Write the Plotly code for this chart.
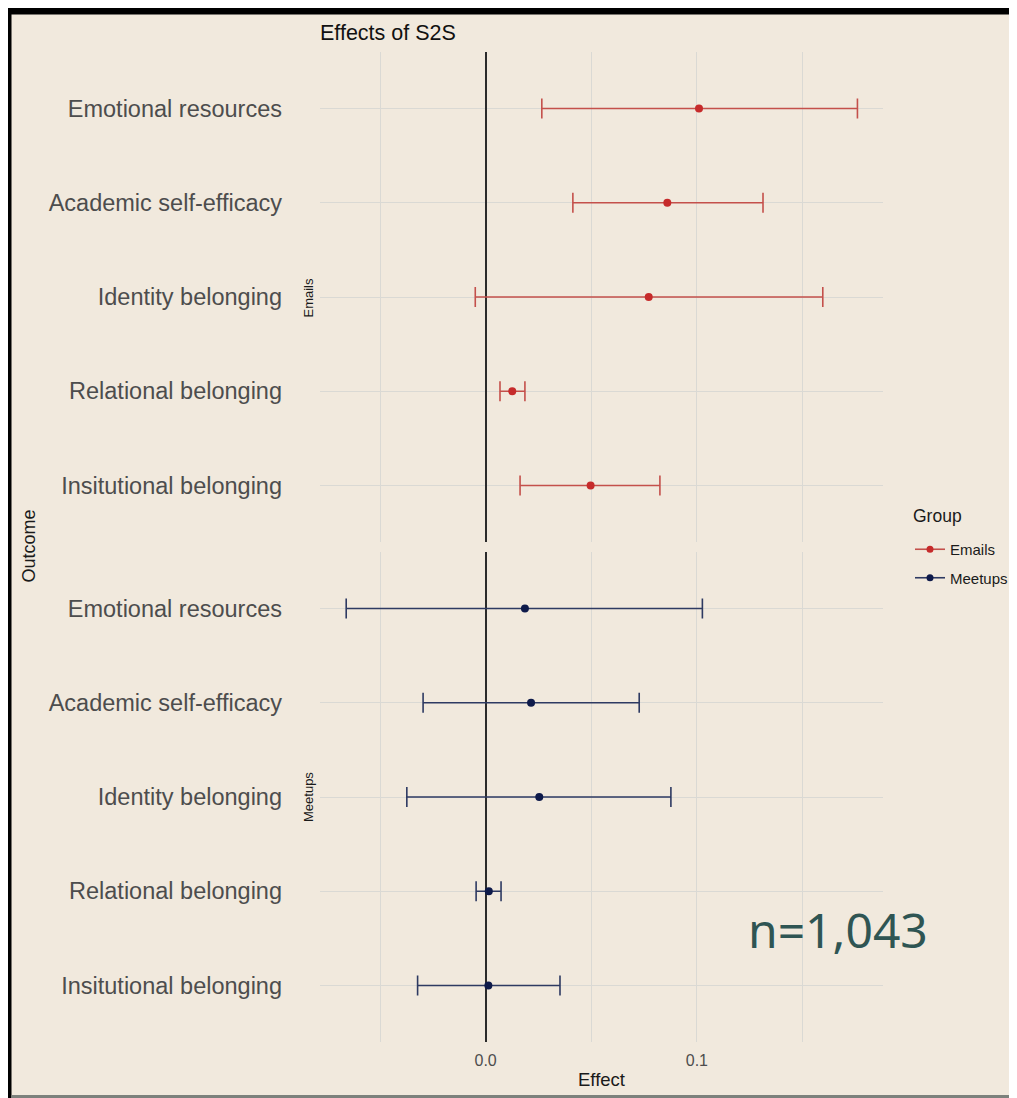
import plotly.graph_objects as go
from plotly.subplots import make_subplots

# ---- data ----
outcomes = ["Emotional resources", "Academic self-efficacy", "Identity belonging",
            "Relational belonging", "Insitutional belonging"]

emails_est = [0.101, 0.086, 0.0772, 0.0126, 0.0497]
emails_lo = [0.0266, 0.0413, -0.0049, 0.0068, 0.0163]
emails_hi = [0.176, 0.1313, 0.1596, 0.0186, 0.0825]

meetups_est = [0.0186, 0.0215, 0.0254, 0.0015, 0.0013]
meetups_lo = [-0.066, -0.0296, -0.0373, -0.0045, -0.0322]
meetups_hi = [0.1026, 0.0727, 0.0877, 0.0073, 0.0352]

x_tickvals = [-0.05, 0.0, 0.05, 0.1, 0.15]
x_ticktext = ["", "0.0", "", "0.1", ""]

groups = ["Emails", "Meetups"]

# ---- geometry (pixels in the page; the page body adds an 8px margin) ----
OFF = 8
PAGE_W, PAGE_H = 1017, 1098
W, H = PAGE_W - OFF, PAGE_H - OFF
L, R, T, B = 320, 883, 52, 1042  # plot area in page pixels
pw, ph = R - L, B - T


def px(xp):
    return (xp - L) / pw


def py(yp):
    return (B - yp) / ph


BG = "#F1E9DD"
GRID = "#DAD9D4"
FONT = "Liberation Sans, Arial, sans-serif"
email_marker, email_line = "#C62B2B", "#C4504B"
meet_marker, meet_line = "#0E1A4A", "#2E3A62"

fig = make_subplots(rows=2, cols=1, shared_xaxes=True, vertical_spacing=10 / ph)

series = [
    (emails_est, emails_lo, emails_hi, email_marker, email_line, 1),
    (meetups_est, meetups_lo, meetups_hi, meet_marker, meet_line, 2),
]
for (est, lo, hi, mc, lc, row), name in zip(series, groups):
    fig.add_trace(go.Scatter(
        x=est, y=outcomes, mode="markers", name=name, showlegend=False,
        marker=dict(color=mc, size=8),
        error_x=dict(type="data", symmetric=False,
                     array=[h - e for h, e in zip(hi, est)],
                     arrayminus=[e - l for e, l in zip(est, lo)],
                     color=lc, thickness=1.6, width=10),
    ), row=row, col=1)
    # legend entry
    fig.add_trace(go.Scatter(
        x=[None], y=[None], mode="lines+markers", name=name, legendgroup=name,
        line=dict(color=lc, width=1.6), marker=dict(color=mc, size=7),
    ), row=1, col=1)

for r in (1, 2):
    fig.update_yaxes(type="category", categoryorder="array", categoryarray=outcomes,
                     range=[4.6, -0.6], showgrid=True, gridcolor=GRID, gridwidth=1,
                     ticks="", showline=False, zeroline=False,
                     tickfont=dict(family=FONT, size=23.5, color="#4D4D4D"),
                     ticklabelstandoff=37, row=r, col=1)
    fig.update_xaxes(range=[-0.0784, 0.1881], tickvals=x_tickvals, ticktext=x_ticktext,
                     showgrid=True, gridcolor=GRID, gridwidth=1,
                     zeroline=True, zerolinecolor="#2B2B2B", zerolinewidth=1.6,
                     ticks="", showline=False, ticklabelstandoff=7,
                     tickfont=dict(family=FONT, size=16, color="#4D4D4D"),
                     row=r, col=1)

fig.update_xaxes(title=dict(text="Effect", font=dict(family=FONT, size=18.5, color="#1A1A1A"),
                            standoff=5), row=2, col=1)

anns = []
for text, yy in (("Emails", 297.5), ("Meetups", 797)):
    anns.append(dict(text=text, x=px(308), y=py(yy), textangle=-90,
                     xref="paper", yref="paper", showarrow=False, xanchor="center",
                     yanchor="middle", font=dict(family=FONT, size=13, color="#1A1A1A")))
anns.append(dict(text="Outcome", xref="paper", yref="paper", x=px(28), y=py(546.5),
                 textangle=-90, showarrow=False, xanchor="center", yanchor="middle",
                 font=dict(family=FONT, size=18, color="#1A1A1A")))
anns.append(dict(text="Group", xref="paper", yref="paper", x=px(911), y=py(516),
                 showarrow=False, xanchor="left", yanchor="middle",
                 font=dict(family=FONT, size=17.5, color="#1A1A1A")))
anns.append(dict(text="n=1,043", xref="paper", yref="paper", x=px(746), y=py(929),
                 showarrow=False, xanchor="left", yanchor="middle",
                 font=dict(family="Noto Sans, sans-serif", size=48, color="#2F5553")))

shapes = [
    # black frame (top and left) and grey bottom edge
    dict(type="rect", xref="paper", yref="paper", x0=px(0), x1=px(PAGE_W + 10), y0=py(0), y1=py(14.5),
         fillcolor="black", line=dict(width=0), layer="below"),
    dict(type="rect", xref="paper", yref="paper", x0=px(0), x1=px(11.5), y0=py(0), y1=py(PAGE_H + 10),
         fillcolor="black", line=dict(width=0), layer="below"),
    dict(type="rect", xref="paper", yref="paper", x0=px(11.5), x1=px(PAGE_W + 10), y0=py(1095),
         y1=py(PAGE_H + 10), fillcolor="#7D817C", line=dict(width=0), layer="below"),
]

fig.update_layout(
    width=W, height=H,
    margin=dict(l=L - OFF, r=PAGE_W - R, t=T - OFF, b=PAGE_H - B, pad=0, autoexpand=False),
    paper_bgcolor=BG, plot_bgcolor=BG,
    title=dict(text="Effects of S2S", x=px(320), xref="paper", xanchor="left",
               y=1 - (32 - OFF) / H, yref="container", yanchor="middle",
               font=dict(family=FONT, size=21.5, color="#111111")),
    legend=dict(font=dict(family=FONT, size=15, color="#1A1A1A"),
                x=px(910), y=py(533), xanchor="left", yanchor="top",
                bgcolor="rgba(0,0,0,0)", tracegroupgap=6, traceorder="grouped"),
    annotations=anns,
    shapes=shapes,
)

fig.write_html("out.html")
